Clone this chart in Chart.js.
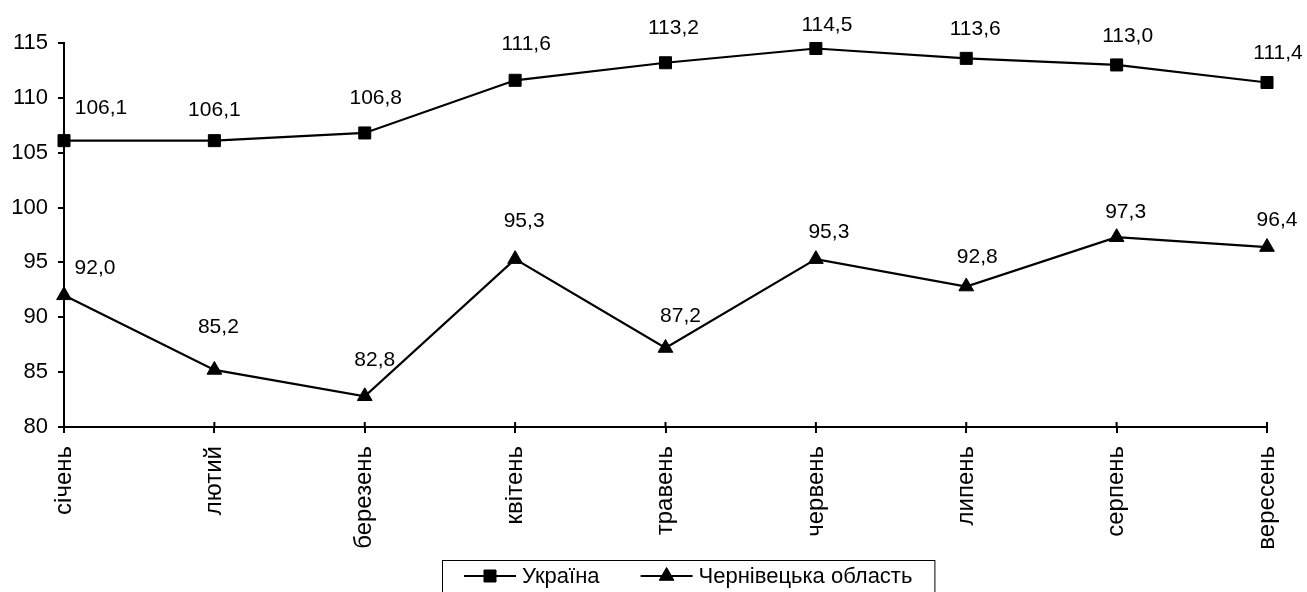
<!DOCTYPE html>
<html>
<head>
<meta charset="utf-8">
<script src="https://cdn.jsdelivr.net/npm/chart.js@4.4.1/dist/chart.umd.min.js"></script>
<style>
  html, body { margin: 0; padding: 0; background: #fff; }
</style>
</head>
<body>
<canvas id="chart" width="1307" height="592"></canvas>
<script>
// дані
const months = ['січень', 'лютий', 'березень', 'квітень', 'травень', 'червень', 'липень', 'серпень', 'вересень'];
const ukraine = [106.1, 106.1, 106.8, 111.6, 113.2, 114.5, 113.6, 113.0, 111.4];
const chernivtsi = [92.0, 85.2, 82.8, 95.3, 87.2, 95.3, 92.8, 97.3, 96.4];
const yTicks = [80, 85, 90, 95, 100, 105, 110, 115];
const seriesNames = ['Україна', 'Чернівецька область'];

const FONT = '"Liberation Sans", Arial, sans-serif';

// підписи значень над точками (зсув відносно точки, як у вихідній діаграмі)
const valueLabels = {
  id: 'valueLabels',
  afterDatasetsDraw(chart, args, opts) {
    const ctx = chart.ctx;
    ctx.save();
    ctx.font = opts.size + 'px ' + FONT;
    ctx.fillStyle = '#000';
    ctx.textAlign = 'center';
    ctx.textBaseline = 'middle';
    chart.data.datasets.forEach((ds, i) => {
      chart.getDatasetMeta(i).data.forEach((pt, j) => {
        const s = opts.shift[i][j];
        ctx.fillText(ds.data[j].toFixed(1).replace('.', ','), pt.x + s[0], pt.y + s[1]);
      });
    });
    ctx.restore();
  }
};

// поділки осі X, що перетинають вісь (внутрішня частина)
const crossTicks = {
  id: 'crossTicks',
  afterDraw(chart, args, opts) {
    const ctx = chart.ctx;
    const xs = chart.scales.x;
    const yb = chart.chartArea.bottom;
    ctx.save();
    ctx.strokeStyle = '#000';
    ctx.lineWidth = 2;
    ctx.beginPath();
    xs.ticks.forEach((t, i) => {
      const x = xs.getPixelForTick(i);
      ctx.moveTo(x, yb - opts.len);
      ctx.lineTo(x, yb);
    });
    ctx.stroke();
    ctx.restore();
  }
};

// легенда в рамці під діаграмою
const boxLegend = {
  id: 'boxLegend',
  afterDraw(chart, args, opts) {
    const ctx = chart.ctx;
    const sets = chart.data.datasets;
    ctx.save();
    ctx.font = opts.size + 'px ' + FONT;
    const sample = 52, gap = 6, between = 41, pad = 22;
    const widths = sets.map(d => ctx.measureText(d.label).width);
    const total = widths.reduce((a, b) => a + b, 0) + sets.length * (sample + gap) + between * (sets.length - 1) + 2 * pad;
    let x = Math.round(opts.centerX - total / 2);
    ctx.strokeStyle = '#000';
    ctx.lineWidth = 1;
    ctx.strokeRect(x + 0.5, opts.top + 0.5, total, opts.height);
    const cy = opts.top + opts.height / 2;
    x += pad;
    sets.forEach((d, i) => {
      ctx.strokeStyle = '#000';
      ctx.fillStyle = '#000';
      ctx.lineWidth = 2;
      ctx.beginPath();
      ctx.moveTo(x, cy);
      ctx.lineTo(x + sample, cy);
      ctx.stroke();
      ctx.lineWidth = 1;
      Chart.helpers.drawPoint(ctx, { pointStyle: d.pointStyle, radius: d.pointRadius, borderWidth: 1, rotation: 0 }, x + sample / 2, cy);
      ctx.fillStyle = '#000';
      ctx.textAlign = 'left';
      ctx.textBaseline = 'middle';
      ctx.fillText(d.label, x + sample + gap, cy + 1);
      x += sample + gap + widths[i] + between;
    });
    ctx.restore();
  }
};

const lineStyle = {
  borderColor: '#000',
  backgroundColor: '#000',
  borderWidth: 2.2,
  pointRadius: 8.5,
  pointBorderWidth: 1,
  pointBackgroundColor: '#000',
  pointBorderColor: '#000',
  tension: 0,
  clip: false
};

new Chart(document.getElementById('chart'), {
  type: 'line',
  data: {
    labels: months,
    datasets: [
      Object.assign({ label: seriesNames[0], data: ukraine, pointStyle: 'rect' }, lineStyle),
      Object.assign({ label: seriesNames[1], data: chernivtsi, pointStyle: 'triangle' }, lineStyle)
    ]
  },
  options: {
    responsive: false,
    animation: false,
    layout: { padding: { top: 43, right: 40, left: 0, bottom: 0 } },
    scales: {
      x: {
        offset: false,
        afterFit: s => { s.height = 165; s.paddingLeft = 0; s.paddingRight = 0; },
        grid: { drawOnChartArea: false, drawTicks: true, tickLength: 6, color: '#000', lineWidth: 2 },
        border: { display: true, color: '#000', width: 2 },
        ticks: {
          autoSkip: false, maxRotation: 90, minRotation: 90, padding: 13,
          color: '#000', font: { family: FONT, size: 24 }
        }
      },
      y: {
        min: 80,
        max: 115,
        afterFit: s => { s.width = 64; },
        afterBuildTicks: s => { s.ticks = yTicks.map(v => ({ value: v })); },
        grid: { drawOnChartArea: false, drawTicks: true, tickLength: 6, color: '#000', lineWidth: 2 },
        border: { display: true, color: '#000', width: 2 },
        ticks: { padding: 10, color: '#000', font: { family: FONT, size: 22 } }
      }
    },
    plugins: {
      legend: { display: false },
      tooltip: { enabled: false },
      valueLabels: {
        size: 21,
        shift: [
          [[37, -32], [0, -30], [11, -35], [11, -36], [8, -35], [11, -23], [9, -29], [11, -29], [11, -29]],
          [[31, -27], [4, -43], [10, -36], [9, -38], [15, -32], [13, -27], [11, -29], [9, -25], [10, -27]]
        ]
      },
      crossTicks: { len: 5 },
      boxLegend: { size: 22, centerX: 688, top: 560, height: 32 }
    }
  },
  plugins: [valueLabels, crossTicks, boxLegend]
});
</script>
</body>
</html>
